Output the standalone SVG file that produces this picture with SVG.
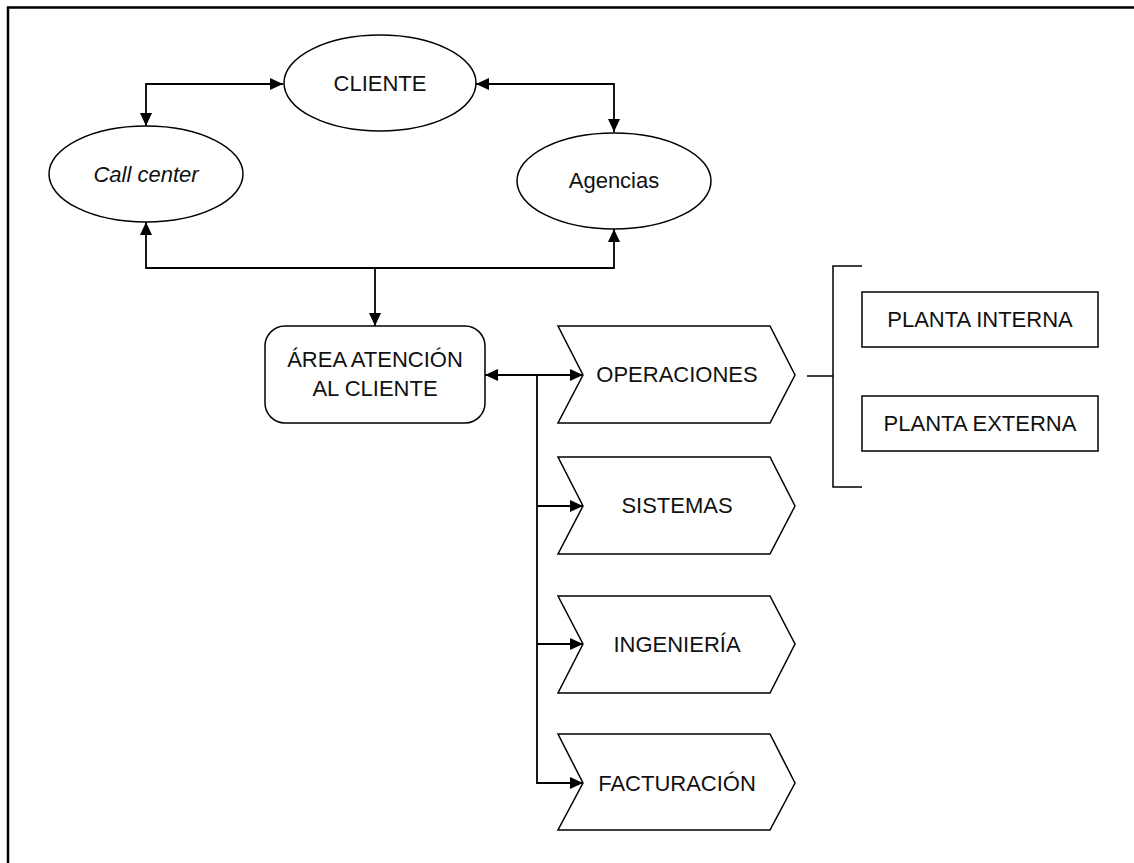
<svg xmlns="http://www.w3.org/2000/svg" width="1134" height="863" viewBox="0 0 1134 863">
<style>
.shape{fill:#fff;stroke:#000;stroke-width:1.5}
.conn{fill:none;stroke:#000;stroke-width:1.8}
.t{font-family:"Liberation Sans",Arial,sans-serif;font-size:22px;fill:#111;text-anchor:middle}
.it{font-style:italic}
</style>
<defs>
<marker id="ah" markerUnits="userSpaceOnUse" markerWidth="14" markerHeight="12" refX="13" refY="6" orient="auto-start-reverse">
<path d="M0,0 L13,6 L0,12 Z" fill="#000"/>
</marker>
</defs>
<rect x="0" y="0" width="1134" height="863" fill="#fff"/>
<path d="M8,863 V7.5 H1134" fill="none" stroke="#000" stroke-width="2.5"/>

<g id="connectors">
<path class="conn" d="M283,84 H146 V126" marker-start="url(#ah)" marker-end="url(#ah)"/>
<path class="conn" d="M476,84 H614 V132" marker-start="url(#ah)" marker-end="url(#ah)"/>
<path class="conn" d="M146,222 V268 H614 V229" marker-start="url(#ah)" marker-end="url(#ah)"/>
<path class="conn" d="M375,268 V326" marker-end="url(#ah)"/>
<path class="conn" d="M485,375 H583" marker-start="url(#ah)" marker-end="url(#ah)"/>
<path class="conn" d="M537,375 V783 H583" marker-end="url(#ah)"/>
<path class="conn" d="M537,506 H583" marker-end="url(#ah)"/>
<path class="conn" d="M537,644 H583" marker-end="url(#ah)"/>
<path class="conn" d="M807,376 H833 M862,266 H833 V487 H862" style="stroke-width:1.5"/>
</g>

<g id="cliente">
<ellipse class="shape" cx="380" cy="83" rx="96" ry="48"/>
<text class="t" x="380" y="91">CLIENTE</text>
</g>
<g id="callcenter">
<ellipse class="shape" cx="146" cy="174" rx="97" ry="48"/>
<text class="t it" x="146" y="182">Call center</text>
</g>
<g id="agencias">
<ellipse class="shape" cx="614" cy="181" rx="97" ry="48"/>
<text class="t" x="614" y="188">Agencias</text>
</g>
<g id="area">
<rect class="shape" x="265" y="326" width="220" height="97" rx="20" ry="20"/>
<text class="t" x="375" y="367">ÁREA ATENCIÓN</text>
<text class="t" x="375" y="396">AL CLIENTE</text>
</g>
<g id="operaciones">
<path class="shape" d="M558,326 H770 L795,375 L770,423 H558 L583,375 Z"/>
<text class="t" x="677" y="382">OPERACIONES</text>
</g>
<g id="sistemas">
<path class="shape" d="M558,457 H770 L795,506 L770,554 H558 L583,506 Z"/>
<text class="t" x="677" y="513">SISTEMAS</text>
</g>
<g id="ingenieria">
<path class="shape" d="M558,596 H770 L795,644 L770,693 H558 L583,644 Z"/>
<text class="t" x="677" y="652">INGENIERÍA</text>
</g>
<g id="facturacion">
<path class="shape" d="M558,734 H770 L795,783 L770,830 H558 L583,783 Z"/>
<text class="t" x="677" y="791">FACTURACIÓN</text>
</g>
<g id="planta-interna">
<rect class="shape" x="862" y="292" width="236" height="55"/>
<text class="t" x="980" y="327">PLANTA INTERNA</text>
</g>
<g id="planta-externa">
<rect class="shape" x="862" y="396" width="236" height="55"/>
<text class="t" x="980" y="431">PLANTA EXTERNA</text>
</g>
</svg>
